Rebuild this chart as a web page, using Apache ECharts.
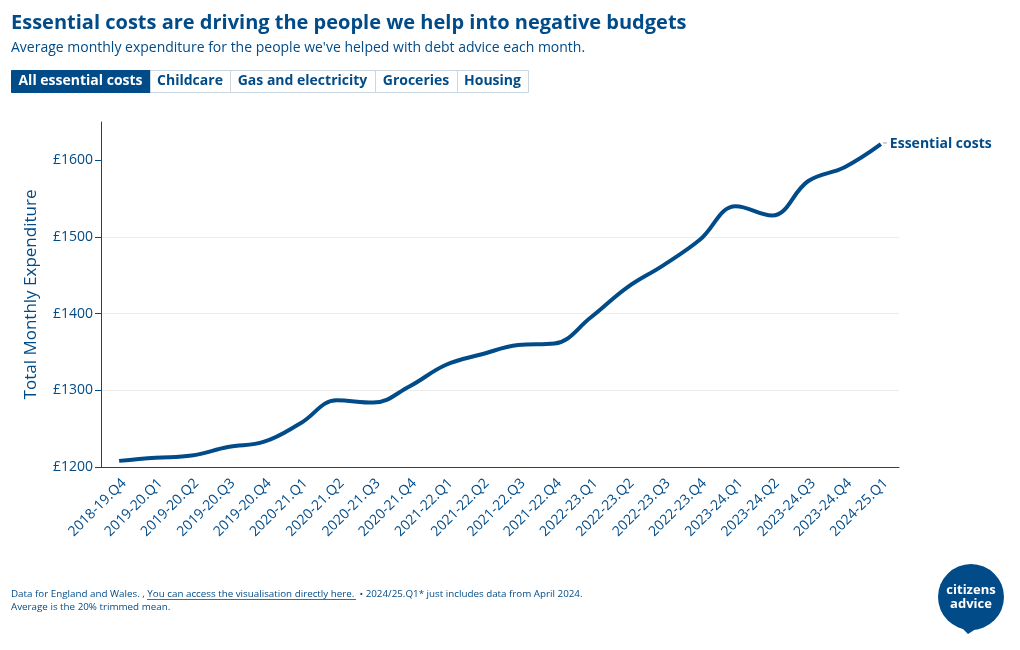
<!DOCTYPE html>
<html>
<head>
<meta charset="utf-8">
<script src="https://cdn.jsdelivr.net/npm/echarts@6/dist/echarts.min.js"></script>
<style>html,body{margin:0;padding:0;background:#fff}#c{width:1020px;height:650px}</style>
</head>
<body>
<div id="c"></div>
<script>
const categories = ['2018-19.Q4','2019-20.Q1','2019-20.Q2','2019-20.Q3','2019-20.Q4','2020-21.Q1','2020-21.Q2','2020-21.Q3','2020-21.Q4','2021-22.Q1','2021-22.Q2','2021-22.Q3','2021-22.Q4','2022-23.Q1','2022-23.Q2','2022-23.Q3','2022-23.Q4','2023-24.Q1','2023-24.Q2','2023-24.Q3','2023-24.Q4','2024-25.Q1'];
const essentialCosts = [1208,1212,1215,1226,1233,1257,1287,1284,1305,1333,1347,1359,1361,1395,1434,1463,1496,1540,1528,1573,1591,1621];
const yTicks = [1200,1300,1400,1500,1600];
const buttons = ['All essential costs','Childcare','Gas and electricity','Groceries','Housing'];
const seriesName = 'Essential costs';

const BLUE = '#004b88';
const FONT = '"Open Sans", "Noto Sans", sans-serif';
const chart = echarts.init(document.getElementById('c'));

const btnX = [11,150,230,375,457,528];
const graphics = [];
buttons.forEach((b,i)=>{
  const active = i===0;
  graphics.push({type:'rect', left:btnX[i], top:70, shape:{width:btnX[i+1]-btnX[i], height:22},
    style:{fill: active?BLUE:'#fff', stroke: active?BLUE:'#c9d6e2', lineWidth:1}});
  graphics.push({type:'text', x:(btnX[i]+btnX[i+1])/2, y:81.5,
    style:{text:b, fill: active?'#fff':BLUE, font:'bold 14px '+FONT, align:'center', verticalAlign:'middle'}});
});
// footer
graphics.push({type:'text', left:11, top:589, style:{text:'Data for England and Wales. , You can access the visualisation directly here.  • 2024/25.Q1* just includes data from April 2024.', fill:BLUE, font:'9.8px '+FONT}});
graphics.push({type:'text', left:11, top:602, style:{text:'Average is the 20% trimmed mean.', fill:BLUE, font:'9.8px '+FONT}});
graphics.push({type:'line', shape:{x1:147,y1:599.5,x2:356,y2:599.5}, style:{stroke:BLUE,lineWidth:0.8}});
// logo
graphics.push({type:'circle', shape:{cx:971, cy:597, r:33}, style:{fill:BLUE}});
graphics.push({type:'polygon', shape:{points:[[960,626],[982,625],[968,634]]}, style:{fill:BLUE}});
graphics.push({type:'text', x:971, y:590, style:{text:'citizens', fill:'#fff', font:'bold 13px '+FONT, align:'center', verticalAlign:'middle'}});
graphics.push({type:'text', x:971, y:604, style:{text:'advice', fill:'#fff', font:'bold 13px '+FONT, align:'center', verticalAlign:'middle'}});
// small connector before end label
graphics.push({type:'line', shape:{x1:883,y1:143,x2:887,y2:143}, style:{stroke:'#9ab',lineWidth:1}});

chart.setOption({
  animation:false,
  textStyle:{fontFamily:FONT},
  title:[
    {text:'Essential costs are driving the people we help into negative budgets', left:11, top:13, padding:0,
     textStyle:{color:BLUE, fontSize:20, fontWeight:'bold', fontFamily:FONT}},
    {text:"Average monthly expenditure for the people we've helped with debt advice each month.", left:11, top:41, padding:0,
     textStyle:{color:BLUE, fontSize:14, fontWeight:'normal', fontFamily:FONT}}
  ],
  graphic: graphics,
  grid:{left:101, right:121, top:122, bottom:183},
  xAxis:{type:'category', data:categories, boundaryGap:true,
    axisLine:{lineStyle:{color:BLUE, width:1}},
    axisTick:{alignWithLabel:true, length:6, lineStyle:{color:BLUE}},
    axisLabel:{rotate:45, color:BLUE, fontSize:14, fontFamily:FONT, interval:0, margin:9, verticalAlign:'top'}},
  yAxis:{type:'value', min:1200, max:1650, interval:100,
    name:'Total Monthly Expenditure', nameLocation:'middle', nameGap:61,
    nameTextStyle:{color:BLUE, fontSize:17, fontFamily:FONT},
    axisLine:{show:true, lineStyle:{color:BLUE}},
    axisTick:{show:true, length:6, lineStyle:{color:BLUE}, customValues:yTicks},
    axisLabel:{color:BLUE, fontSize:14, fontFamily:FONT, margin:8, customValues:yTicks,
      formatter:v=>'£'+v},
    splitLine:{show:true, showMaxLine:false, lineStyle:{color:'#ececec'}}},
  series:[{name:seriesName, type:'line', data:essentialCosts, smooth:0.4, symbol:'none',
    lineStyle:{color:BLUE, width:4},
    endLabel:{show:true, formatter:'{a}', color:BLUE, fontSize:14, fontWeight:'bold', fontFamily:FONT, distance:9}}]
});
</script>
</body>
</html>
